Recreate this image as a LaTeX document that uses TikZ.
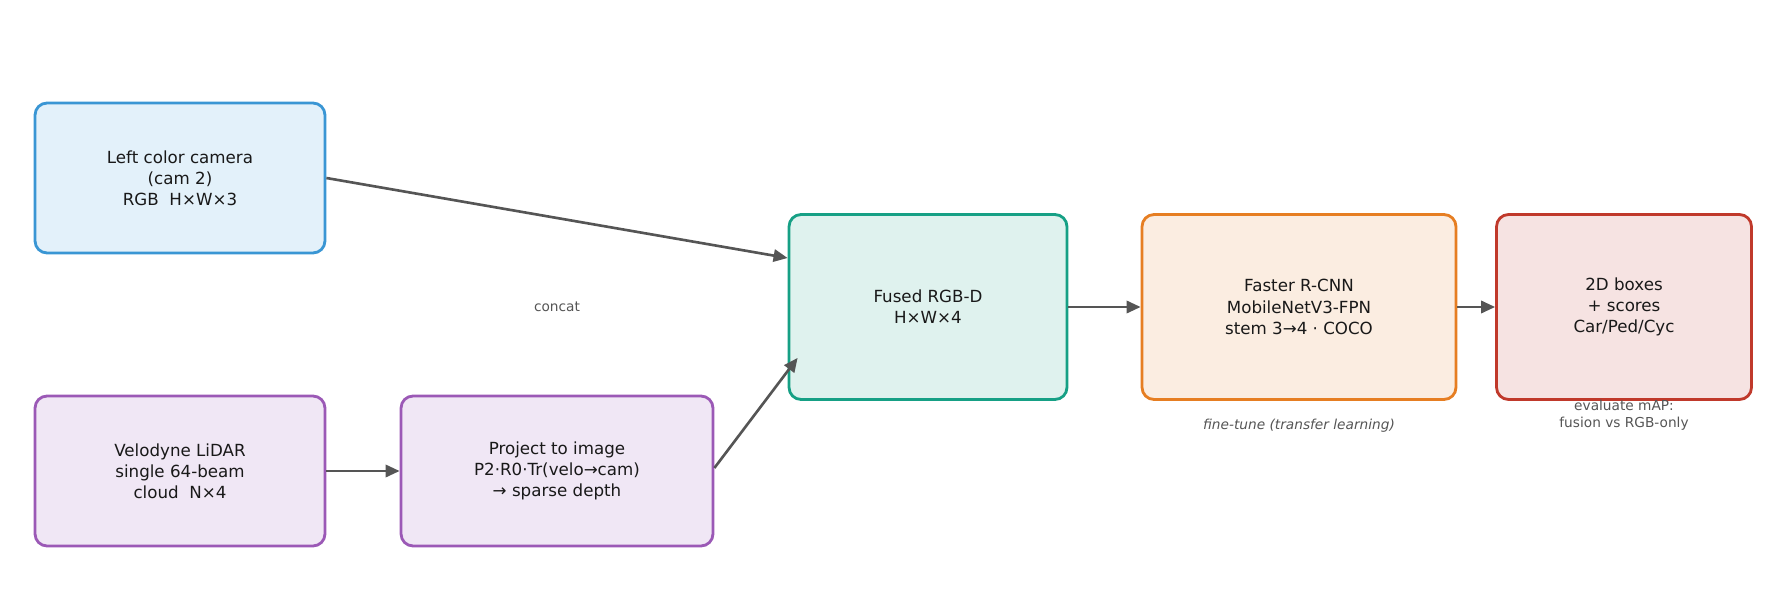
\documentclass[tikz,border=0pt]{standalone}
\usepackage{fontspec}
\setmainfont{DejaVu Sans}
\usetikzlibrary{calc,arrows.meta}
\definecolor{bB}{HTML}{3A96D4}\definecolor{fB}{HTML}{E3F1FA}
\definecolor{bP}{HTML}{9B59B6}\definecolor{fP}{HTML}{F0E7F5}
\definecolor{bT}{HTML}{16A085}\definecolor{fT}{HTML}{DFF2EE}
\definecolor{bO}{HTML}{E67E22}\definecolor{fO}{HTML}{FBEDE1}
\definecolor{bR}{HTML}{C0392B}\definecolor{fR}{HTML}{F6E3E2}
\definecolor{ar}{HTML}{555555}\definecolor{lab}{HTML}{555555}
\begin{document}
\begin{tikzpicture}[x=0.02cm,y=-0.02cm,
  box/.style={draw,line width=1.6pt,rounded corners=0.24cm,align=center,inner sep=0pt,font=\fontsize{9.5}{12}\selectfont,text=black!90},
  arr/.style={draw=ar,line width=1.5pt,-{Triangle[length=8pt,width=7pt]}},
  note/.style={text=lab,font=\fontsize{7.8}{9.5}\selectfont,align=center}]
\useasboundingbox (0,0) rectangle (1785,615);
\node[box,draw=bB,fill=fB,minimum width=5.8cm,minimum height=3cm] (A) at (180,178) {Left color camera\\(cam 2)\\RGB\ \ H×W×3};
\node[box,draw=bP,fill=fP,minimum width=5.8cm,minimum height=3cm] (B) at (180,471) {Velodyne LiDAR\\single 64-beam\\cloud\ \ N×4};
\node[box,draw=bP,fill=fP,minimum width=6.24cm,minimum height=3cm] (C) at (557,471) {Project to image\\P2·R0·Tr(velo→cam)\\→ sparse depth};
\node[box,draw=bT,fill=fT,minimum width=5.56cm,minimum height=3.7cm] (D) at (928,307) {Fused RGB-D\\H×W×4};
\node[box,draw=bO,fill=fO,minimum width=6.28cm,minimum height=3.7cm] (E) at (1299,307) {Faster R-CNN\\MobileNetV3-FPN\\stem 3→4 · COCO};
\node[box,draw=bR,fill=fR,minimum width=5.1cm,minimum height=3.7cm] (F) at (1624,307) {2D boxes\\+ scores\\Car/Ped/Cyc};
\node[note] (cc) at (557,307) {concat};
\node[note,font=\fontsize{7.8}{9.5}\itshape] (ft) at (1299,426) {fine-tune (transfer learning)};
\node[note] (ev) at (1624,415) {evaluate mAP:\\fusion vs RGB-only};
\draw[arr] ($(A.east)+(0,0)$) -- ($(D.west)+(0,-49)$);
\draw[arr] ($(C.east)+(0,-3)$) -- ($(D.south west)+(10,-43)$);
\draw[arr] (B) -- (C);
\draw[arr] (D) -- (E);
\draw[arr] (E) -- (F);
\end{tikzpicture}
\end{document}
